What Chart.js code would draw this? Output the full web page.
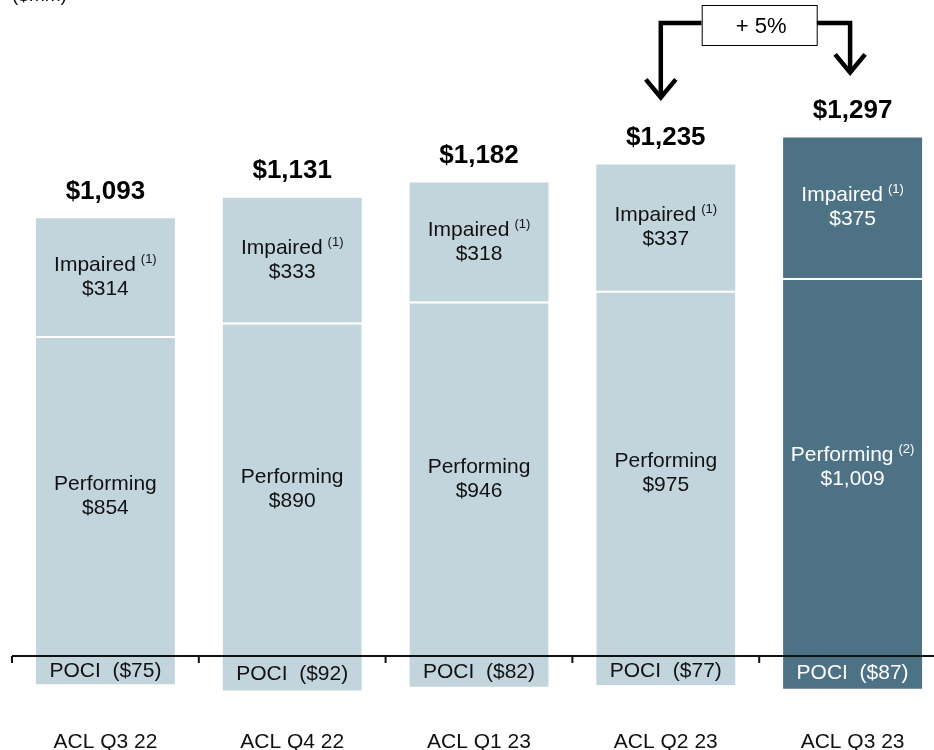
<!DOCTYPE html>
<html>
<head>
<meta charset="utf-8">
<script src="https://cdn.jsdelivr.net/npm/chart.js@4/dist/chart.umd.min.js"></script>
<style>
  html, body { margin: 0; padding: 0; background: #fff; overflow: hidden; }
  #wrap { width: 934px; height: 750px; position: relative; overflow: hidden; }
  #c { display: block; }
</style>
</head>
<body>
<div id="wrap"><canvas id="c" width="946" height="750"></canvas></div>
<script>
const categories = ['ACL Q3 22', 'ACL Q4 22', 'ACL Q1 23', 'ACL Q2 23', 'ACL Q3 23'];
const performing = [854, 890, 946, 975, 1009];
const impaired = [314, 333, 318, 337, 375];
const poci = [-75, -92, -82, -77, -87];
const performingNotes = ['', '', '', '', '(2)'];
const impairedNotes = ['(1)', '(1)', '(1)', '(1)', '(1)'];
const changeLabel = '+ 5%';
const unitLabel = '($mm)';

const LIGHT = '#c3d5dc';
const DARK = '#4e7285';
const FONT = '"Liberation Sans", Arial, sans-serif';
const colorsFor = () => categories.map((_, i) => i === categories.length - 1 ? DARK : LIGHT);
const textColorFor = i => i === categories.length - 1 ? '#ffffff' : '#111111';
const fmt = v => '$' + Math.abs(v).toLocaleString('en-US');

function drawNoted(ctx, main, note, cx, cy, color) {
  ctx.fillStyle = color;
  ctx.textBaseline = 'middle';
  ctx.textAlign = 'left';
  ctx.font = '21px ' + FONT;
  const wMain = ctx.measureText(main).width;
  let wNote = 0, gap = 0;
  if (note) {
    ctx.font = '13px ' + FONT;
    wNote = ctx.measureText(note).width;
    gap = 5;
  }
  const x0 = cx - (wMain + gap + wNote) / 2;
  ctx.font = '21px ' + FONT;
  ctx.fillText(main, x0, cy);
  if (note) {
    ctx.font = '13px ' + FONT;
    ctx.fillText(note, x0 + wMain + gap, cy - 6);
  }
}

const labelsPlugin = {
  id: 'labelsPlugin',
  afterDatasetsDraw(chart) {
    const ctx = chart.ctx;
    const xs = chart.scales.x, ys = chart.scales.y;
    const y0 = ys.getPixelForValue(0);
    ctx.save();
    // zero axis line with boundary ticks
    ctx.strokeStyle = '#111';
    ctx.lineWidth = 2;
    ctx.beginPath();
    ctx.moveTo(xs.left, y0);
    ctx.lineTo(chart.width, y0);
    for (let i = 0; i <= categories.length; i++) {
      const bx = xs.getPixelForValue(i - 0.5);
      ctx.moveTo(bx, y0);
      ctx.lineTo(bx, y0 + 7);
    }
    ctx.stroke();

    const mPerf = chart.getDatasetMeta(0).data;
    const mImp = chart.getDatasetMeta(1).data;
    const mPoci = chart.getDatasetMeta(2).data;
    categories.forEach((c, i) => {
      const col = textColorFor(i);
      const p = mPerf[i], im = mImp[i], pc = mPoci[i];
      const pc1 = (p.y + p.base) / 2;
      drawNoted(ctx, 'Performing', performingNotes[i], p.x, pc1 - 12, col);
      drawNoted(ctx, fmt(performing[i]), '', p.x, pc1 + 12, col);
      const ic = (im.y + im.base) / 2;
      drawNoted(ctx, 'Impaired', impairedNotes[i], im.x, ic - 12, col);
      drawNoted(ctx, fmt(impaired[i]), '', im.x, ic + 12, col);
      const qc = (pc.y + pc.base) / 2;
      ctx.font = '21px ' + FONT;
      ctx.textAlign = 'center';
      ctx.textBaseline = 'middle';
      ctx.fillStyle = col;
      ctx.fillText('POCI  (' + fmt(poci[i]) + ')', pc.x, qc + 1);
      // total
      const total = performing[i] + impaired[i] + poci[i];
      ctx.font = 'bold 26px ' + FONT;
      ctx.fillStyle = '#000';
      ctx.fillText(fmt(total), im.x, im.y - 27);
    });

    // change annotation
    const n = categories.length;
    const topA = mImp[n - 2].y, topB = mImp[n - 1].y;
    const lx = mImp[n - 2].x - 5, rx = mImp[n - 1].x - 2.5;
    const bc = xs.getPixelForValue(n - 1.5);
    const bw = 115, bh = 40, bt = 5;
    const ly = bt + 18;
    ctx.strokeStyle = '#000';
    ctx.lineWidth = 4.5;
    ctx.lineJoin = 'miter';
    ctx.beginPath();
    ctx.moveTo(bc - bw / 2, ly);
    ctx.lineTo(lx, ly);
    ctx.lineTo(lx, topA - 67);
    ctx.moveTo(bc + bw / 2, ly);
    ctx.lineTo(rx, ly);
    ctx.lineTo(rx, topB - 65);
    ctx.stroke();
    ctx.beginPath();
    ctx.moveTo(lx - 15, topA - 85);
    ctx.lineTo(lx, topA - 67);
    ctx.lineTo(lx + 15, topA - 85);
    ctx.moveTo(rx - 15, topB - 83);
    ctx.lineTo(rx, topB - 65);
    ctx.lineTo(rx + 15, topB - 83);
    ctx.stroke();
    ctx.fillStyle = '#fff';
    ctx.fillRect(bc - bw / 2, bt, bw, bh);
    ctx.lineWidth = 1;
    ctx.strokeRect(bc - bw / 2 + 0.5, bt + 0.5, bw, bh);
    ctx.fillStyle = '#000';
    ctx.font = '22px ' + FONT;
    ctx.textAlign = 'center';
    ctx.textBaseline = 'middle';
    ctx.fillText(changeLabel, bc + 2, bt + bh / 2 + 2);

    // unit label (clipped at top)
    ctx.font = '19px ' + FONT;
    ctx.textAlign = 'left';
    ctx.textBaseline = 'alphabetic';
    ctx.fillStyle = '#111';
    ctx.fillText(unitLabel, 12, 0.5);
    ctx.restore();
  }
};

new Chart(document.getElementById('c'), {
  type: 'bar',
  data: {
    labels: categories,
    datasets: [
      { label: 'Performing', data: performing, backgroundColor: colorsFor(),
        borderColor: '#ffffff', borderWidth: { top: 2, left: 0, right: 0, bottom: 0 }, borderSkipped: false },
      { label: 'Impaired', data: impaired, backgroundColor: colorsFor(), borderWidth: 0 },
      { label: 'POCI', data: poci, backgroundColor: colorsFor(), borderWidth: 0 }
    ]
  },
  options: {
    responsive: false,
    animation: false,
    devicePixelRatio: 1,
    categoryPercentage: 0.744,
    barPercentage: 1,
    layout: { padding: { left: 12, right: 0, top: 19, bottom: 0 } },
    plugins: { legend: { display: false }, tooltip: { enabled: false } },
    scales: {
      x: {
        stacked: true,
        grid: { display: false },
        border: { display: false },
        ticks: { color: '#111', font: { family: FONT, size: 21 }, padding: 6, maxRotation: 0 },
        afterFit: s => { s.height = 34; }
      },
      y: {
        stacked: true,
        display: false,
        min: -160,
        max: 1700
      }
    }
  },
  plugins: [labelsPlugin]
});
</script>
</body>
</html>
